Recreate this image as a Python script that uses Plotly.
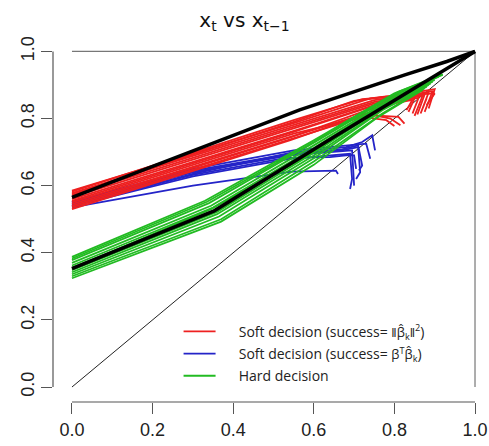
import plotly.graph_objects as go

# ---- data: x_{t-1} (x) and x_t (y) for each trajectory ----
black_upper_x = [0, 0.565, 0.826, 0.93, 1.0]
black_upper_y = [0.565, 0.826, 0.93, 0.97, 1.0]
black_lower_x = [0, 0.353, 0.65, 1.0]
black_lower_y = [0.353, 0.525, 0.745, 1.0]

red_x = [
    [0, 0.56, 0.74, 0.82, 0.90, 0.885],
    [0, 0.56, 0.75, 0.83, 0.895, 0.875],
    [0, 0.56, 0.75, 0.83, 0.885, 0.865, 0.88],
    [0, 0.555, 0.75, 0.83, 0.875, 0.857],
    [0, 0.555, 0.75, 0.83, 0.87, 0.85],
    [0, 0.55, 0.74, 0.82, 0.86, 0.845],
    [0, 0.55, 0.74, 0.81, 0.825],
    [0, 0.55, 0.73, 0.79, 0.815],
    [0, 0.545, 0.72, 0.80, 0.85, 0.835],
    [0, 0.545, 0.72, 0.78, 0.80],
    [0, 0.54, 0.72, 0.80, 0.845, 0.83],
    [0, 0.55, 0.70, 0.78, 0.83],
    [0, 0.55, 0.72, 0.79, 0.84, 0.90, 0.88],
]
red_y = [
    [0.585, 0.79, 0.86, 0.872, 0.888, 0.83],
    [0.578, 0.785, 0.855, 0.868, 0.882, 0.82],
    [0.572, 0.778, 0.85, 0.865, 0.878, 0.815, 0.86],
    [0.566, 0.772, 0.845, 0.862, 0.872, 0.812],
    [0.56, 0.765, 0.84, 0.86, 0.868, 0.808],
    [0.555, 0.76, 0.835, 0.855, 0.862, 0.815],
    [0.55, 0.755, 0.81, 0.805, 0.785],
    [0.545, 0.75, 0.815, 0.80, 0.78],
    [0.54, 0.745, 0.82, 0.85, 0.86, 0.82],
    [0.535, 0.74, 0.805, 0.795, 0.778],
    [0.53, 0.735, 0.81, 0.845, 0.856, 0.825],
    [0.575, 0.79, 0.853, 0.865, 0.866],
    [0.582, 0.795, 0.858, 0.866, 0.87, 0.875, 0.84],
]

blue_x = [
    [0, 0.30, 0.545, 0.655, 0.66],
    [0, 0.30, 0.54, 0.66, 0.695, 0.70],
    [0, 0.30, 0.54, 0.67, 0.71, 0.715, 0.705],
    [0, 0.30, 0.55, 0.68, 0.72, 0.745, 0.752],
    [0, 0.30, 0.55, 0.67, 0.71, 0.72, 0.712],
    [0, 0.30, 0.54, 0.65, 0.69, 0.695, 0.69],
    [0, 0.30, 0.53, 0.64, 0.68, 0.70, 0.705],
    [0, 0.30, 0.55, 0.69, 0.73, 0.74],
]
blue_y = [
    [0.535, 0.60, 0.642, 0.645, 0.635],
    [0.545, 0.64, 0.69, 0.70, 0.705, 0.60],
    [0.55, 0.645, 0.695, 0.705, 0.715, 0.64, 0.62],
    [0.54, 0.635, 0.70, 0.715, 0.73, 0.75, 0.705],
    [0.548, 0.64, 0.695, 0.708, 0.72, 0.66, 0.645],
    [0.538, 0.628, 0.68, 0.69, 0.695, 0.62, 0.59],
    [0.542, 0.632, 0.683, 0.685, 0.69, 0.69, 0.65],
    [0.552, 0.65, 0.705, 0.72, 0.725, 0.68],
]

green_x = [
    [0, 0.33, 0.60, 0.80, 0.915],
    [0, 0.34, 0.60, 0.80, 0.92],
    [0, 0.345, 0.60, 0.80, 0.91],
    [0, 0.35, 0.60, 0.79, 0.90],
    [0, 0.355, 0.60, 0.79, 0.895],
    [0, 0.36, 0.60, 0.78, 0.89],
    [0, 0.36, 0.60, 0.78, 0.885],
    [0, 0.365, 0.60, 0.77, 0.88],
    [0, 0.37, 0.60, 0.77, 0.875],
    [0, 0.37, 0.60, 0.76, 0.87],
    [0, 0.335, 0.60, 0.81, 0.92],
    [0, 0.345, 0.60, 0.80, 0.90],
]
green_y = [
    [0.388, 0.555, 0.735, 0.875, 0.93],
    [0.378, 0.548, 0.728, 0.87, 0.932],
    [0.370, 0.54, 0.72, 0.865, 0.925],
    [0.362, 0.535, 0.712, 0.855, 0.915],
    [0.356, 0.528, 0.705, 0.85, 0.91],
    [0.348, 0.522, 0.698, 0.84, 0.905],
    [0.342, 0.515, 0.69, 0.835, 0.90],
    [0.336, 0.508, 0.682, 0.825, 0.895],
    [0.33, 0.50, 0.672, 0.815, 0.89],
    [0.324, 0.493, 0.662, 0.805, 0.885],
    [0.383, 0.552, 0.73, 0.88, 0.93],
    [0.352, 0.53, 0.70, 0.86, 0.92],
]

tick_vals = [0, 0.2, 0.4, 0.6, 0.8, 1.0]
tick_text = ["0.0", "0.2", "0.4", "0.6", "0.8", "1.0"]

RED = "#ee2020"
BLUE = "#2424c8"
GREEN = "#22bb22"

GAP = "\u00a0\u00a0\u00a0\u00a0\u00a0"
names = {
    "red": GAP + "Soft decision (success= <span style='font-size:13px'>‖β̂<sub>k</sub>‖<sup>2</sup></span>)",
    "blue": GAP + "Soft decision (success= <span style='font-size:13px'>β<sup>T</sup>β̂<sub>k</sub></span>)",
    "green": GAP + "Hard decision",
}

fig = go.Figure()

# diagonal reference
fig.add_trace(go.Scatter(x=[0, 1], y=[0, 1], mode="lines",
                         line=dict(color="#222222", width=1), showlegend=False, hoverinfo="skip"))


def add_group(xs, ys, color, key, rank):
    for i, (xx, yy) in enumerate(zip(xs, ys)):
        fig.add_trace(go.Scatter(
            x=xx, y=yy, mode="lines", line=dict(color=color, width=1.8),
            name=names[key], legendgroup=key, showlegend=(i == 0), legendrank=rank,
            hoverinfo="skip"))


add_group(blue_x, blue_y, BLUE, "blue", 2)
add_group(red_x, red_y, RED, "red", 1)
add_group(green_x, green_y, GREEN, "green", 3)

fig.add_trace(go.Scatter(x=black_upper_x, y=black_upper_y, mode="lines",
                         line=dict(color="black", width=3.5), showlegend=False, hoverinfo="skip"))
fig.add_trace(go.Scatter(x=black_lower_x, y=black_lower_y, mode="lines",
                         line=dict(color="black", width=3.5), showlegend=False, hoverinfo="skip"))

axis_color = "#555555"
shapes = [
    # R-style axis lines spanning only the tick range
    dict(type="line", xref="x", yref="paper", x0=0, x1=1, y0=0, y1=0,
         line=dict(color=axis_color, width=1.2)),
    dict(type="line", xref="paper", yref="y", x0=0, x1=0, y0=0, y1=1,
         line=dict(color=axis_color, width=1.2)),
    # top and right frame
    dict(type="line", xref="x", yref="y", x0=0, x1=1, y0=1, y1=1,
         line=dict(color="#777777", width=1.2), layer="below"),
    dict(type="line", xref="x", yref="y", x0=1, x1=1, y0=0, y1=1,
         line=dict(color="#777777", width=1.2), layer="below"),
]

fig.update_layout(
    width=489, height=446,
    margin=dict(l=53, r=0, t=35, b=44),
    paper_bgcolor="white", plot_bgcolor="white",
    font=dict(family="Liberation Sans, Arial, sans-serif", color="#222222"),
    title=dict(text="x<sub>t</sub> vs x<sub>t−1</sub>", x=0.5, xanchor="center",
               y=0.955, yanchor="middle",
               font=dict(family="DejaVu Sans, sans-serif", size=20, color="#111111")),
    xaxis=dict(range=[-0.0471, 1.0347], showgrid=False, zeroline=False, showline=False,
               tickvals=tick_vals, ticktext=tick_text, ticks="outside", ticklen=11,
               tickwidth=1.2, tickcolor=axis_color, tickfont=dict(size=18, color="#222222")),
    yaxis=dict(range=[-0.0447, 1.049], showgrid=False, zeroline=False, showline=False,
               tickvals=tick_vals, ticktext=tick_text, ticks="outside", ticklen=11,
               tickwidth=1.2, tickcolor=axis_color, tickangle=-90,
               tickfont=dict(size=18, color="#222222")),
    shapes=shapes,
    showlegend=True,
    legend=dict(x=0.288, y=0.235, xanchor="left", yanchor="top",
                bgcolor="rgba(0,0,0,0)", borderwidth=0,
                font=dict(family="Open Sans, sans-serif", size=14, color="#222222"),
                itemwidth=32, traceorder="grouped", tracegroupgap=1),
)

fig.write_html("out.html")
